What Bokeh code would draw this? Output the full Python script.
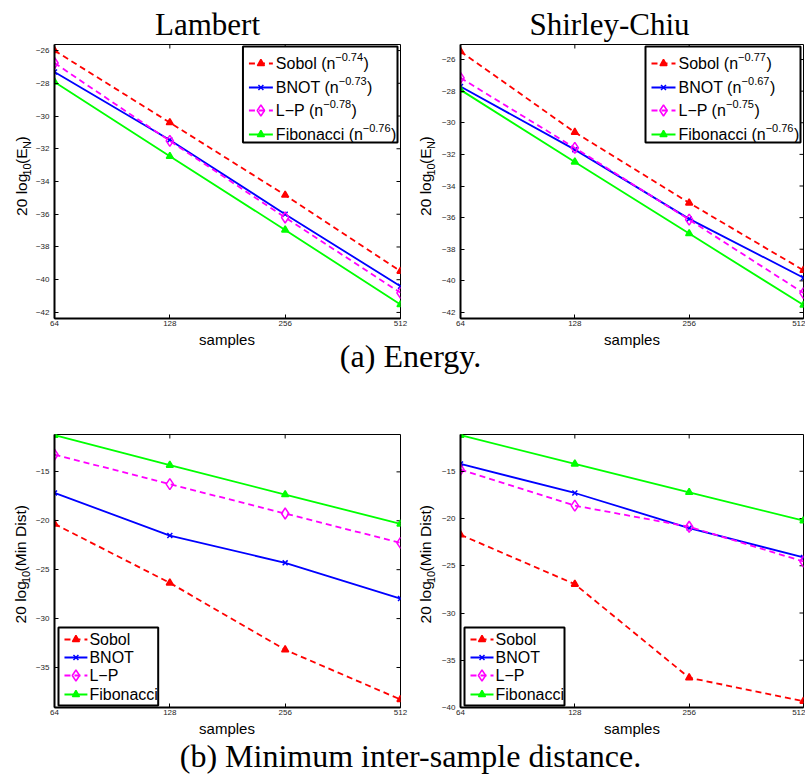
import numpy as np
from bokeh.plotting import figure
from bokeh.models import Range1d, FixedTicker
from bokeh.layouts import column, row
from bokeh.embed import file_html
from bokeh.resources import INLINE
from bokeh.core.properties import value

# ---------------- data ----------------
samples = [64, 128, 256, 512]
series_names = ["Sobol", "BNOT", "L\u2212P", "Fibonacci"]

energy_lambert_sobol = [-26.0, -30.4, -34.83, -39.48]
energy_lambert_bnot = [-27.31, -31.46, -36.0, -40.4]
energy_lambert_lp = [-26.76, -31.52, -36.2, -40.8]
energy_lambert_fib = [-27.92, -32.46, -36.96, -41.52]

energy_shirley_sobol = [-25.49, -30.6, -35.07, -39.33]
energy_shirley_bnot = [-27.71, -31.7, -36.08, -39.8]
energy_shirley_lp = [-27.16, -31.59, -36.13, -40.77]
energy_shirley_fib = [-27.92, -32.48, -37.01, -41.53]

mindist_lambert_sobol = [-20.32, -26.35, -33.19, -38.27]
mindist_lambert_bnot = [-17.15, -21.51, -24.3, -27.95]
mindist_lambert_lp = [-13.23, -16.26, -19.26, -22.26]
mindist_lambert_fib = [-11.25, -14.32, -17.32, -20.32]

mindist_shirley_sobol = [-21.72, -26.95, -36.85, -39.33]
mindist_shirley_bnot = [-14.22, -17.3, -21.01, -24.12]
mindist_shirley_lp = [-14.82, -18.64, -20.87, -24.55]
mindist_shirley_fib = [-11.18, -14.22, -17.23, -20.23]

energy_lambert_rates = ["\u22120.74", "\u22120.73", "\u22120.78", "\u22120.76"]
energy_shirley_rates = ["\u22120.77", "\u22120.67", "\u22120.75", "\u22120.76"]

energy_yticks = [-42, -40, -38, -36, -34, -32, -30, -28, -26]
mindist_lambert_yticks = [-35, -30, -25, -20, -15]
mindist_shirley_yticks = [-40, -35, -30, -25, -20, -15]

panel_titles = ["Lambert", "Shirley-Chiu"]
captions = ["(a) Energy.", "(b) Minimum inter-sample distance."]
x_label = "samples"

# ---------------- styles ----------------
STYLES = [
    dict(color="#ff0000", dash="6 4", marker="triangle", size=7, filled=True),
    dict(color="#0000ff", dash="solid", marker="x", size=7, filled=False),
    dict(color="#ff00ff", dash="6 4", marker="diamond", size=11, filled=False),
    dict(color="#00ff00", dash="solid", marker="triangle", size=7, filled=True),
]
SANS = "Liberation Sans"
SERIF = "Liberation Serif"
LEG_SIZE = 16.0
SUP_SIZE = 11.0

HELV = {'S': 667, 'o': 556, 'b': 556, 'l': 222, ' ': 278, '(': 333, ')': 333, 'n': 556,
        'B': 667, 'N': 722, 'O': 778, 'T': 611, 'L': 556, '\u2212': 584, 'P': 667, 'F': 611,
        'i': 222, 'a': 556, 'c': 500, '.': 278, 'E': 667, 'g': 556, 'M': 833, 'D': 722,
        's': 500, 't': 278, '-': 333}


def tw(s, size):
    return sum(HELV.get(c, 556) for c in s) * size / 1000.0


class Geo:
    def __init__(self, L, T, W, H, ymin, ymax):
        self.L, self.T, self.W, self.H, self.ymin, self.ymax = L, T, W, H, ymin, ymax

    def X(self, px):
        return samples[0] * 2 ** (3.0 * (px - self.L) / self.W)

    def Y(self, py):
        return self.ymax - (py - self.T) / self.H * (self.ymax - self.ymin)


def make_panel(fig_x, fig_y, width, height, mbl, mbr, mbt, mbb, ymin, ymax, yticks, series):
    p = figure(width=width, height=height, x_axis_type="log",
               x_range=Range1d(samples[0], samples[-1]), y_range=Range1d(ymin, ymax),
               output_backend="svg", toolbar_location=None,
               min_border_left=mbl, min_border_right=mbr, min_border_top=mbt, min_border_bottom=mbb)
    geo = Geo(fig_x + mbl, fig_y + mbt, width - mbl - mbr, height - mbt - mbb, ymin, ymax)
    p.xgrid.visible = False
    p.ygrid.visible = False
    p.outline_line_color = "black"
    p.outline_line_width = 1
    p.outline_line_alpha = 1
    p.background_fill_color = "white"
    p.border_fill_color = "white"

    xa = p.xaxis[0]
    xa.ticker = FixedTicker(ticks=samples)
    ya = p.yaxis[0]
    ya.ticker = FixedTicker(ticks=yticks)
    for ax in (xa, ya):
        ax.major_tick_in = 4
        ax.major_tick_out = 0
        ax.minor_tick_line_color = None
        ax.axis_line_width = 2
        ax.axis_line_color = "black"
        ax.major_tick_line_color = "black"
        ax.major_label_text_font = SANS
        ax.major_label_text_font_size = "8px"
        ax.major_label_text_color = "#262626"
    xa.major_label_standoff = 2
    ya.major_label_standoff = 5

    # inward ticks on the top and right edges of the box
    tick_px = 4
    dy = tick_px * (ymax - ymin) / geo.H
    inner = samples[1:-1]
    p.segment(x0=inner, x1=inner, y0=[ymax] * len(inner), y1=[ymax - dy] * len(inner),
              line_color="black", line_width=1)
    xr = geo.X(geo.L + geo.W - tick_px)
    p.segment(x0=[samples[-1]] * len(yticks), x1=[xr] * len(yticks), y0=yticks, y1=yticks,
              line_color="black", line_width=1)

    for ys, st in zip(series, STYLES):
        p.line(samples, ys, line_color=st["color"], line_width=1.8, line_dash=st["dash"])
        p.scatter(samples, ys, marker=st["marker"], size=st["size"], line_color=st["color"],
                  fill_color=st["color"] if st["filled"] else None, line_width=1.5)
    return p, geo


def add_legend(p, geo, box, line_x, text_x, rows, texts, sups):
    bl, bt, br, bb = box
    p.quad(left=[geo.X(bl)], right=[geo.X(br)], top=[geo.Y(bt)], bottom=[geo.Y(bb)],
           fill_color="white", line_color="black", line_width=2)
    for i, st in enumerate(STYLES):
        ry = geo.Y(rows[i])
        p.line([geo.X(line_x[0]), geo.X(line_x[1])], [ry, ry], line_color=st["color"],
               line_width=1.8, line_dash=st["dash"])
        p.scatter([geo.X((line_x[0] + line_x[1]) / 2.0)], [ry], marker=st["marker"], size=st["size"],
                  line_color=st["color"], fill_color=st["color"] if st["filled"] else None,
                  line_width=1.5)
        main = texts[i]
        p.text(x=[geo.X(text_x)], y=[ry], text=[main], text_font=value(SANS),
               text_font_size=value(f"{LEG_SIZE}px"), text_baseline="middle", text_align="left",
               text_color="black")
        if sups is not None:
            x1 = text_x + tw(main, LEG_SIZE)
            p.text(x=[geo.X(x1)], y=[geo.Y(rows[i] - 6.5)], text=[sups[i]], text_font=value(SANS),
                   text_font_size=value(f"{SUP_SIZE}px"), text_baseline="middle", text_align="left",
                   text_color="black")
            x2 = x1 + tw(sups[i], SUP_SIZE) + 0.5
            p.text(x=[geo.X(x2)], y=[ry], text=[")"], text_font=value(SANS),
                   text_font_size=value(f"{LEG_SIZE}px"), text_baseline="middle", text_align="left",
                   text_color="black")


def pixfig(w, h):
    f = figure(width=w, height=h, x_range=Range1d(0, w), y_range=Range1d(0, h),
               x_axis_type=None, y_axis_type=None, output_backend="svg", toolbar_location=None,
               min_border=0, min_border_left=0, min_border_right=0, min_border_top=0,
               min_border_bottom=0)
    f.outline_line_color = None
    f.background_fill_color = "white"
    f.border_fill_color = "white"
    return f


def put_text(f, fig_x, fig_y, px, py, text, font, size, align="center", angle=0.0):
    f.text(x=[px - fig_x], y=[f.height - (py - fig_y)], text=[text], text_font=value(font),
           text_font_size=value(size), text_baseline="middle", text_align=align, angle=angle,
           text_color="black")


def ylabel_fig(fig_x, fig_y, w, h, geo, segments, mid_x):
    f = pixfig(w, h)
    total = sum(tw(t, 11 if sub else 15.5) for t, sub in segments)
    start = geo.T + geo.H / 2.0 + total / 2.0
    cum = 0.0
    for t, sub in segments:
        size = 11 if sub else 15.5
        ax = mid_x + (5.0 if sub else 0.0)
        put_text(f, fig_x, fig_y, ax, start - cum, t, SANS, f"{size}px", align="left",
                 angle=np.pi / 2)
        cum += tw(t, size)
    return f


# ---------------- layout (page pixels) ----------------
W_Y1, W_TL, W_Y2, W_TR = 32, 378, 26, 369
X_TL = W_Y1
X_Y2 = W_Y1 + W_TL
X_TR = X_Y2 + W_Y2
TOTAL_W = X_TR + W_TR

H_TITLE, H_R1, H_CA, H_R2, H_CB = 43, 287, 103, 286, 61
Y_R1 = H_TITLE
Y_CA = Y_R1 + H_R1
Y_R2 = Y_CA + H_CA
Y_CB = Y_R2 + H_R2

tl, gtl = make_panel(X_TL, Y_R1, W_TL, H_R1, 21, 10, 1, 12, -42.37, -25.63, energy_yticks,
                     [energy_lambert_sobol, energy_lambert_bnot, energy_lambert_lp, energy_lambert_fib])
tr, gtr = make_panel(X_TR, Y_R1, W_TR, H_R1, 24, 2, 1, 12, -42.38, -25.05, energy_yticks,
                     [energy_shirley_sobol, energy_shirley_bnot, energy_shirley_lp, energy_shirley_fib])
bl, gbl = make_panel(X_TL, Y_R2, W_TL, H_R2, 21, 10, 1, 12, -39.09, -11.18, mindist_lambert_yticks,
                     [mindist_lambert_sobol, mindist_lambert_bnot, mindist_lambert_lp, mindist_lambert_fib])
br, gbr = make_panel(X_TR, Y_R2, W_TR, H_R2, 24, 2, 1, 12, -40.0, -11.11, mindist_shirley_yticks,
                     [mindist_shirley_sobol, mindist_shirley_bnot, mindist_shirley_lp, mindist_shirley_fib])

energy_texts = [n + " (n" for n in series_names]
for p, g, rates in ((tl, gtl, energy_lambert_rates), (tr, gtr, energy_shirley_rates)):
    R = g.L + g.W
    box = (R - 158, g.T + 2, R - 3, g.T + 98)
    add_legend(p, g, box, (box[0] + 6, box[0] + 30), box[0] + 33,
               [g.T + 19, g.T + 43, g.T + 66, g.T + 90], energy_texts, rates)

for p, g in ((bl, gbl), (br, gbr)):
    B = g.T + g.H
    box = (g.L + 4, B - 80, g.L + 104, B - 2)
    add_legend(p, g, box, (box[0] + 6, box[0] + 29), box[0] + 31,
               [box[1] + 12, box[1] + 30, box[1] + 48, box[1] + 67], series_names, None)

energy_label = [("20 log", False), ("10", True), ("(E", False), ("N", True), (")", False)]
mindist_label = [("20 log", False), ("10", True), ("(Min Dist)", False)]

y1 = ylabel_fig(0, Y_R1, W_Y1, H_R1, gtl, energy_label, 21)
y2 = ylabel_fig(X_Y2, Y_R1, W_Y2, H_R1, gtr, energy_label, 425)
y3 = ylabel_fig(0, Y_R2, W_Y1, H_R2, gbl, mindist_label, 20)
y4 = ylabel_fig(X_Y2, Y_R2, W_Y2, H_R2, gbr, mindist_label, 425)

title_fig = pixfig(TOTAL_W, H_TITLE)
put_text(title_fig, 0, 0, 207, 24, panel_titles[0], SERIF, "31px")
put_text(title_fig, 0, 0, 609, 24, panel_titles[1], SERIF, "31px")

cap_a = pixfig(TOTAL_W, H_CA)
put_text(cap_a, 0, Y_CA, gtl.L + gtl.W / 2.0, 338.5, x_label, SANS, "15px")
put_text(cap_a, 0, Y_CA, gtr.L + gtr.W / 2.0, 338.5, x_label, SANS, "15px")
put_text(cap_a, 0, Y_CA, 410, 355, captions[0], SERIF, "32px")

cap_b = pixfig(TOTAL_W, H_CB)
put_text(cap_b, 0, Y_CB, gbl.L + gbl.W / 2.0, 727.5, x_label, SANS, "15px")
put_text(cap_b, 0, Y_CB, gbr.L + gbr.W / 2.0, 727.5, x_label, SANS, "15px")
put_text(cap_b, 0, Y_CB, 410, 755, captions[1], SERIF, "32px")

layout = column(title_fig, row(y1, tl, y2, tr), cap_a, row(y3, bl, y4, br), cap_b)
open("out.html", "w").write(file_html(layout, INLINE))
